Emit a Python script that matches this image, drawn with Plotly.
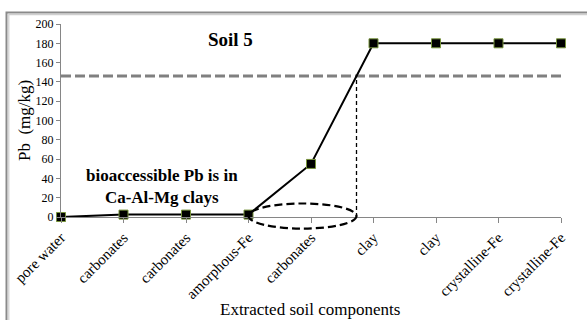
import plotly.graph_objects as go

categories = ["pore water", "carbonates", "carbonates", "amorphous-Fe", "carbonates",
              "clay", "clay", "crystalline-Fe", "crystalline-Fe"]
pb_values = [0, 2.5, 2.5, 2.5, 55, 180, 180, 180, 180]
threshold = 146
y_ticks = [0, 20, 40, 60, 80, 100, 120, 140, 160, 180, 200]

W, H = 587, 320
L, R, T, B = 61, 26, 24, 103
pw, ph = W - L - R, H - T - B

def px(x):
    return (x - L) / pw

def py(y):
    return (H - B - y) / ph

xi = list(range(len(categories)))

# crossing point of the line with the threshold
cross = None
for i in range(len(pb_values) - 1):
    a, b = pb_values[i], pb_values[i + 1]
    if a < threshold <= b:
        cross = i + (threshold - a) / (b - a)
        break

FONT = "Liberation Serif"
fig = go.Figure()
fig.add_trace(go.Scatter(
    x=xi, y=pb_values, mode="lines+markers",
    line=dict(color="black", width=2),
    marker=dict(symbol="square", size=9, color="black",
                line=dict(color="#77933c", width=1)),
    cliponaxis=False, showlegend=False, hoverinfo="skip"))

nx = len(categories) - 1
shapes = [
    dict(type="line", xref="x", yref="y", x0=0, x1=nx, y0=threshold, y1=threshold,
         line=dict(color="#808080", width=3, dash="10px,4px"), layer="below"),
    dict(type="line", xref="x", yref="y", x0=cross, x1=cross, y0=0, y1=threshold,
         line=dict(color="black", width=1.3, dash="4px,3px")),
    dict(type="circle", xref="paper", yref="paper",
         x0=3 / nx, x1=cross / nx, y0=-12 / 200, y1=14 / 200,
         line=dict(color="black", width=2.2, dash="8px,4px")),
    dict(type="rect", xref="paper", yref="paper",
         x0=px(6.5), x1=px(W + 20), y0=py(H + 20), y1=py(12.5),
         line=dict(color="#8a8a8a", width=2)),
    dict(type="rect", xref="paper", yref="paper",
         x0=px(8.8), x1=px(W + 20), y0=py(H + 20), y1=py(14.6),
         line=dict(color="#cfcfcf", width=1.2)),
]

def ann(text, x, y, size, angle=0):
    return dict(text=text, x=px(x), y=py(y), xref="paper", yref="paper",
                xanchor="center", yanchor="middle", textangle=angle,
                showarrow=False, font=dict(family=FONT, size=size, color="black"))

annotations = [
    ann("<b>Soil 5</b>", 230, 40, 19),
    ann("<b>bioaccessible Pb is in<br>Ca-Al-Mg clays</b>", 162, 186, 17),
    ann("Pb  (mg/kg)", 24, 121, 17, -90),
    ann("Extracted soil components", 310, 309, 17),
]

fig.update_layout(
    width=W, height=H,
    margin=dict(l=L, r=R, t=T, b=B, pad=0),
    paper_bgcolor="white", plot_bgcolor="white",
    shapes=shapes, annotations=annotations,
    xaxis=dict(range=[0, nx], tickmode="array", tickvals=xi, ticktext=categories,
               tickangle=-45, showgrid=False, zeroline=False, showline=True,
               linecolor="#868686", linewidth=1, ticks="outside", ticklen=5,
               tickcolor="#868686", tickfont=dict(family=FONT, size=15, color="black")),
    yaxis=dict(range=[0, 200], tickmode="array", tickvals=y_ticks,
               showgrid=False, zeroline=False, showline=True,
               linecolor="#868686", linewidth=1, ticks="outside", ticklen=4,
               tickcolor="#868686", tickfont=dict(family=FONT, size=12, color="black")),
)

fig.write_html("out.html")
